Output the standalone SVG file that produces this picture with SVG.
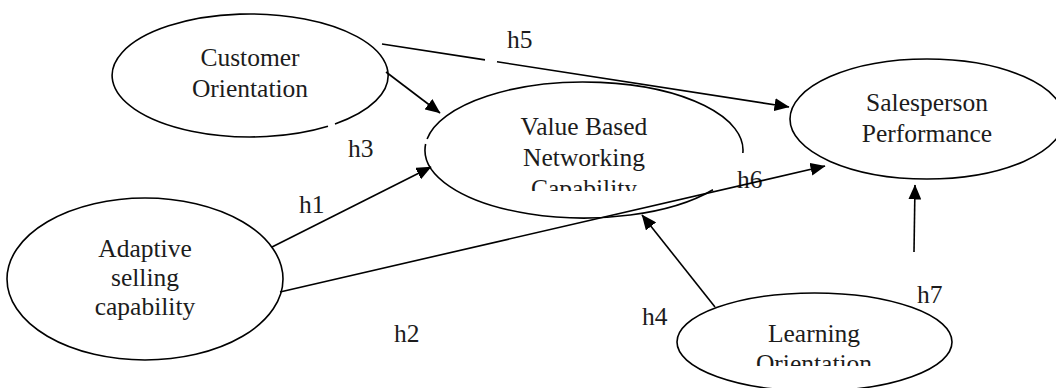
<svg xmlns="http://www.w3.org/2000/svg" width="1056" height="388" viewBox="0 0 1056 388">
<style>
.n{fill:#fff;stroke:#000;stroke-width:1.6}
.g{fill:none;stroke:#000;stroke-width:1.6}
.t{font-family:"Liberation Serif","Times New Roman",serif;font-size:25.5px;fill:#1c1c1c;text-anchor:middle}
.l{font-family:"Liberation Serif","Times New Roman",serif;font-size:25.5px;fill:#1c1c1c}
.c{fill:none;stroke:#000;stroke-width:1.6}
</style>
<defs>
<marker id="ah" markerUnits="userSpaceOnUse" markerWidth="16" markerHeight="13" refX="14.5" refY="6.5" orient="auto" viewBox="0 0 16 13">
<path d="M0,0 L15,6.5 L0,13 z" fill="#000"/>
</marker>
<clipPath id="cv"><rect x="420" y="80" width="330" height="111"/></clipPath>
<clipPath id="cl"><rect x="670" y="290" width="290" height="76"/></clipPath>
</defs>
<rect width="1056" height="388" fill="#fff"/>
<g id="customer-orientation">
<path class="g" d="M335,123.95 A138,61.5 0 1 0 328,126.23"/>
<text class="t" x="250" y="66">Customer</text>
<text class="t" x="250" y="97">Orientation</text>
</g>
<g id="value-based-networking-capability">
<path class="g" d="M713,189.75 A159,68 0 0 1 425.62,144 M427.1,139 A159,68 0 0 1 742.85,153"/>
<g clip-path="url(#cv)">
<text class="t" x="584" y="135">Value Based</text>
<text class="t" x="584" y="166">Networking</text>
<text class="t" x="584" y="197">Capability</text>
</g>
</g>
<g id="salesperson-performance">
<ellipse class="n" cx="927" cy="119" rx="137" ry="60"/>
<text class="t" x="927" y="111">Salesperson</text>
<text class="t" x="927" y="142">Performance</text>
</g>
<g id="adaptive-selling-capability">
<ellipse class="n" cx="145" cy="279" rx="138" ry="81"/>
<text class="t" x="145" y="257">Adaptive</text>
<text class="t" x="145" y="286">selling</text>
<text class="t" x="145" y="315">capability</text>
</g>
<g id="learning-orientation">
<ellipse class="n" cx="814.5" cy="342" rx="137.5" ry="49"/>
<g clip-path="url(#cl)">
<text class="t" x="814" y="342">Learning</text>
<text class="t" x="814" y="372">Orientation</text>
</g>
</g>
<g id="labels">
<text class="l" x="299" y="213">h1</text>
<text class="l" x="394" y="342">h2</text>
<text class="l" x="348" y="157">h3</text>
<text class="l" x="642" y="325">h4</text>
<text class="l" x="507" y="48">h5</text>
<text class="l" x="737" y="188">h6</text>
<text class="l" x="917" y="303">h7</text>
</g>
<g id="connectors">
<path class="c" d="M382,44 L485,59.9 M497,61.8 L789,107" marker-end="url(#ah)"/>
<path class="c" d="M386,72 L440,113" marker-end="url(#ah)"/>
<path class="c" d="M272,247 L431,167" marker-end="url(#ah)"/>
<path class="c" d="M280,292 L825,166" marker-end="url(#ah)"/>
<path class="c" d="M715,307 L642,215" marker-end="url(#ah)"/>
<path class="c" d="M914,252 L915,185" marker-end="url(#ah)"/>
</g>
</svg>
